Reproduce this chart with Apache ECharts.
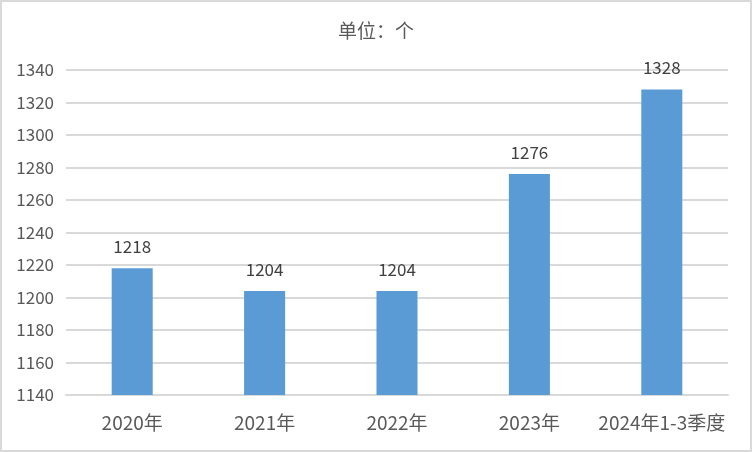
<!DOCTYPE html>
<html><head><meta charset="utf-8">
<script src="https://cdn.jsdelivr.net/npm/echarts@6/dist/echarts.min.js"></script>
<style>html,body{margin:0;padding:0;background:#fff}#c{width:752px;height:452px;box-sizing:border-box;border:2px solid #d9d9d9}</style>
</head><body><div id="c"></div>
<script>
const categories = ['2020年','2021年','2022年','2023年','2024年1-3季度'];
const values = [1218, 1204, 1204, 1276, 1328];
const titleText = '单位：个';
const chart = echarts.init(document.getElementById('c'));
const font = '"Noto Sans CJK SC", "Microsoft YaHei", sans-serif';
chart.setOption({
  animation: false,
  title: {text: titleText, left: 'center', top: 14, textStyle: {color: '#595959', fontSize: 19, fontWeight: 'normal', fontFamily: font}},
  grid: {left: 64, right: 22, top: 68, bottom: 55},
  xAxis: {type: 'category', data: categories,
    axisLine: {lineStyle: {color: '#d9d9d9', width: 2}}, axisTick: {show: false},
    axisLabel: {color: '#595959', fontSize: 19, margin: 18, fontFamily: font, interval: 0}},
  yAxis: {type: 'value', min: 1140, max: 1340, interval: 20,
    axisLine: {show: false}, axisTick: {show: false},
    splitLine: {lineStyle: {color: '#d9d9d9', width: 2}},
    axisLabel: {color: '#595959', fontSize: 17, margin: 12, fontFamily: font, formatter: v => String(v)}},
  series: [{type: 'bar', data: values, barWidth: '31%', itemStyle: {color: '#5b9bd5'},
    label: {show: true, position: 'top', distance: 13, color: '#404040', fontSize: 17, fontFamily: font}}]
});
</script></body></html>
